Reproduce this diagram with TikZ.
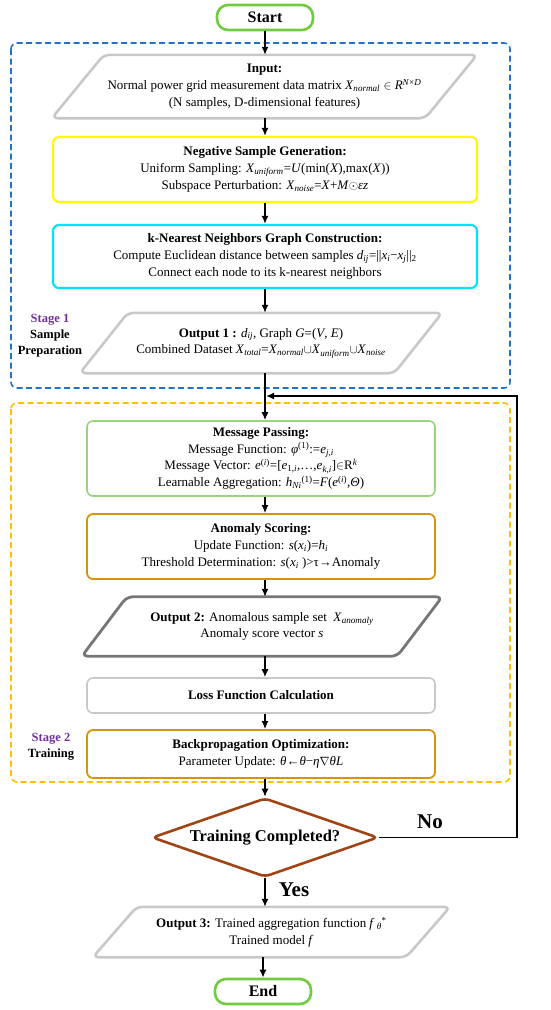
\documentclass[tikz,border=0pt]{standalone}
\usepackage{fontspec}
\setmainfont{Liberation Serif}
\usetikzlibrary{shapes.geometric,arrows.meta,calc}
\definecolor{cstart}{RGB}{110,204,62}
\definecolor{cblue}{RGB}{30,115,200}
\definecolor{clgray}{RGB}{200,200,200}
\definecolor{cdgray}{RGB}{118,118,118}
\definecolor{cyellow}{RGB}{255,250,0}
\definecolor{ccyan}{RGB}{0,228,250}
\definecolor{cgold}{RGB}{255,192,0}
\definecolor{cmsg}{RGB}{150,212,125}
\definecolor{cscore}{RGB}{212,148,18}
\definecolor{cbrown}{RGB}{160,68,22}
\definecolor{cpurple}{RGB}{112,48,160}
\newcommand{\paral}[3]{\draw[#3] (#1.south) -- (#1.south west) -- ($(#1.north west)+(#2,0)$) -- (#1.north east) -- ($(#1.south east)-(#2,0)$) -- cycle;}
\newcommand{\vi}[1]{\textit{#1}}
\begin{document}
\begin{tikzpicture}[x=1pt,y=-1pt,
  font=\fontsize{13}{16.7}\selectfont,
  term/.style={draw=cstart, line width=2.6pt, rounded corners=11pt, minimum width=96pt, minimum height=25pt, inner sep=0pt, font=\fontsize{16}{18}\selectfont\bfseries},
  box/.style={draw, rounded corners=6pt, align=center, inner sep=0pt},
  ptext/.style={align=center, inner sep=0pt},
  pline/.style={rounded corners=6pt, line width=2.6pt, draw=clgray},
  arr/.style={line width=1.5pt, -{Latex[length=8pt,width=7pt]}},
  stage/.style={align=center, font=\fontsize{12.5}{16}\selectfont\bfseries},
  group/.style={rounded corners=6pt, line width=1.6pt, dash pattern=on 6pt off 3.5pt}
]
\useasboundingbox (0,0) rectangle (550,1010);
\coordinate (axis) at (265,0);

% groups
\draw[group, draw=cblue] (11,43) rectangle (510,388);
\draw[group, draw=cgold] (11,403) rectangle (510,782);

\node[term] (start) at (265,17.5) {Start};

\node[ptext, minimum width=425pt, minimum height=63pt] (in) at (264.5,86.5)
 {\textbf{Input:}\\ Normal power grid measurement data matrix \vi{X}\textsubscript{\vi{normal}} $\in$ \vi{R}\textsuperscript{\vi{N}×\vi{D}}\\ (N samples, D-dimensional features)};
\paral{in}{52}{pline}

\node[box, draw=cyellow, line width=2.2pt, minimum width=424pt, minimum height=65pt] (neg) at (265,169.5)
 {\textbf{Negative Sample Generation:}\\ Uniform Sampling: \vi{X}\textsubscript{\vi{uniform}}=\vi{U}(min(\vi{X}),max(\vi{X}))\\ Subspace Perturbation: \vi{X}\textsubscript{\vi{noise}}=\vi{X}+\vi{M}$\odot$\vi{εz}};

\node[box, draw=ccyan, line width=2.2pt, minimum width=424pt, minimum height=63pt] (knn) at (265,256.5)
 {\textbf{k-Nearest Neighbors Graph Construction:}\\ Compute Euclidean distance between samples \vi{d}\textsubscript{\vi{ij}}=||\vi{x}\textsubscript{\vi{i}}−\vi{x}\textsubscript{\vi{j}}||\textsubscript{2}\\ Connect each node to its k-nearest neighbors};

\node[ptext, minimum width=362pt, minimum height=60pt] (out1) at (261,343)
 {\textbf{Output 1 :} \vi{d}\textsubscript{\vi{ij}}, Graph \vi{G}=(\vi{V}, \vi{E})\\ Combined Dataset \vi{X}\textsubscript{\vi{total}}=\vi{X}\textsubscript{\vi{normal}}$\cup$\vi{X}\textsubscript{\vi{uniform}}$\cup$\vi{X}\textsubscript{\vi{noise}}};
\paral{out1}{48}{pline}

\node[stage] (st1) at (50,336) {\textcolor{cpurple}{Stage 1}\\Sample\\Preparation};

\node[box, draw=cmsg, line width=1.6pt, minimum width=348pt, minimum height=75pt] (msg) at (261,458.5)
 {\textbf{Message Passing:}\\ Message Function: \vi{φ}\textsuperscript{(1)}:=\vi{e}\textsubscript{\vi{j,i}}\\ Message Vector: \vi{e}\textsuperscript{(\vi{i})}=[\vi{e}\textsubscript{1,\vi{i}},…,\vi{e}\textsubscript{\vi{k,i}}]$\in$R\textsuperscript{\vi{k}}\\ Learnable Aggregation: \vi{h}\textsubscript{\vi{Ni}}\textsuperscript{(1)}=\vi{F}(\vi{e}\textsuperscript{(\vi{i})},\vi{Θ})};

\node[box, draw=cscore, line width=1.8pt, minimum width=348pt, minimum height=65pt] (score) at (261,546.5)
 {\textbf{Anomaly Scoring:}\\ Update Function: \vi{s}(\vi{x}\textsubscript{\vi{i}})=\vi{h}\textsubscript{\vi{i}}\\ Threshold Determination: \vi{s}(\vi{x}\textsubscript{\vi{i}} )>τ→Anomaly};

\node[ptext, minimum width=360pt, minimum height=59pt] (out2) at (262,626.5)
 {\textbf{Output 2:} Anomalous sample set \ \vi{X}\textsubscript{\vi{anomaly}}\\ Anomaly score vector \vi{s}};
\paral{out2}{45}{pline, draw=cdgray, line width=2.8pt}

\node[box, draw=clgray, line width=1.6pt, minimum width=348pt, minimum height=35pt] (loss) at (261,695.5)
 {\textbf{Loss Function Calculation}};

\node[box, draw=cscore, line width=1.8pt, minimum width=348pt, minimum height=48pt] (bp) at (261,754)
 {\textbf{Backpropagation Optimization:}\\ Parameter Update: \vi{θ}←\vi{θ}−\vi{η}$\nabla$\vi{θL}};

\node[stage] (st2) at (51,747) {\textcolor{cpurple}{Stage 2}\\Training};

\node[diamond, draw=cbrown, line width=2.6pt, aspect=2.86, minimum width=226pt, minimum height=79pt, inner sep=0pt, rounded corners=5pt, font=\fontsize{16.5}{18}\selectfont\bfseries] (dec) at (265,837.5) {Training Completed?};

\node[ptext, minimum width=357pt, minimum height=50pt] (out3) at (271.5,932)
 {\textbf{Output 3:} Trained aggregation function \vi{f}\,\textsubscript{\vi{θ}}\textsuperscript{*}\\ Trained model \vi{f}};
\paral{out3}{44}{pline}

\node[term] (end) at (263,991.5) {End};

% connectors
\draw[arr] (start.south -| axis) -- (in.north -| axis);
\draw[arr] (in.south -| axis) -- (neg.north -| axis);
\draw[arr] (neg.south -| axis) -- (knn.north -| axis);
\draw[arr] (knn.south -| axis) -- (out1.north -| axis);
\draw[arr] (out1.south -| axis) -- (msg.north -| axis);
\draw[arr] (msg.south -| axis) -- (score.north -| axis);
\draw[arr] (score.south -| axis) -- (out2.north -| axis);
\draw[arr] (out2.south -| axis) -- (loss.north -| axis);
\draw[arr] (loss.south -| axis) -- (bp.north -| axis);
\draw[arr, line width=1.2pt] (bp.south -| axis) -- (dec.north);
\coordinate (merge) at (266,396);
\draw[arr, line width=1.8pt] (dec.east) -- (517,837.5) |- (merge);
\draw[arr] (dec.south) -- (dec.south |- out3.north);
\draw[arr] (out3.south -| end) -- (end.north);

\node[font=\fontsize{21}{22}\selectfont\bfseries, anchor=center] (no) at (430,822) {No};
\node[font=\fontsize{21}{22}\selectfont\bfseries, anchor=center] (yes) at (294,890) {Yes};
\end{tikzpicture}
\end{document}
